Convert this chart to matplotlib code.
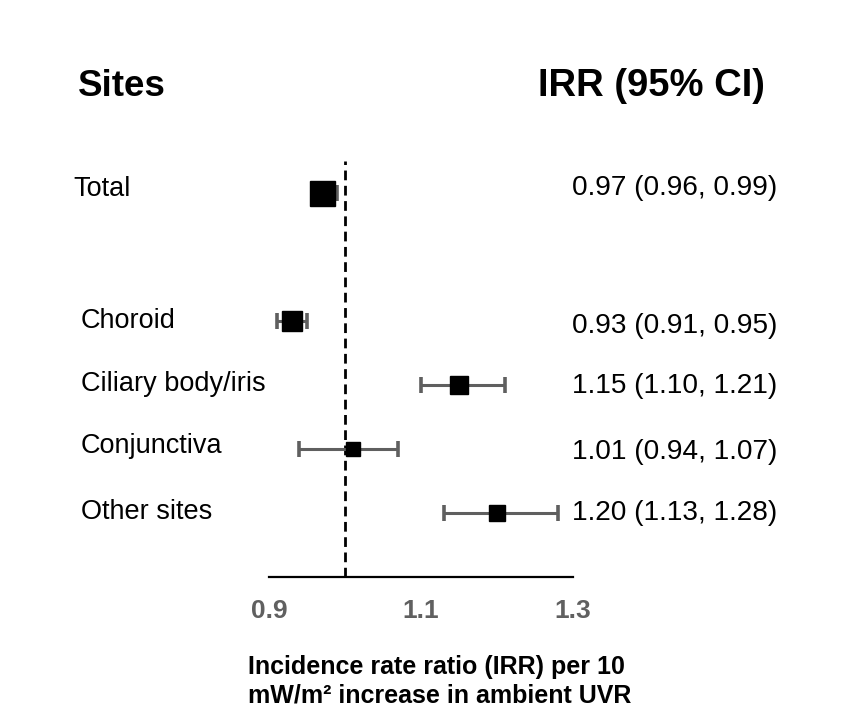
import matplotlib
matplotlib.use("Agg")
from matplotlib import pyplot as plt
from matplotlib import transforms

plt.rcParams['font.family'] = ['Liberation Sans', 'DejaVu Sans']

sites = ["Total", "Choroid", "Ciliary body/iris", "Conjunctiva", "Other sites"]
irr = [0.97, 0.93, 1.15, 1.01, 1.20]
ci_low = [0.96, 0.91, 1.10, 0.94, 1.13]
ci_high = [0.99, 0.95, 1.21, 1.07, 1.28]
rows = [0, 2, 3, 4, 5]
box_sizes = [18, 15, 13, 9.5, 11.5]
ticks = [0.9, 1.1, 1.3]

fig = plt.figure(figsize=(8.58, 7.24), dpi=100)
ax = fig.add_axes([0.3135, 0.203, 0.3543, 0.5746])

for i in range(len(sites)):
    ax.errorbar(irr[i], rows[i], xerr=[[irr[i] - ci_low[i]], [ci_high[i] - irr[i]]],
                fmt='none', ecolor='#5f5f5f', elinewidth=2.2, capsize=5.5, capthick=2.6, zorder=2)
    ax.plot(irr[i], rows[i], marker='s', color='black', markersize=box_sizes[i],
            linestyle='none', zorder=3)

ax.axvline(1.0, color='black', lw=2, dashes=(3.5, 2), zorder=1, clip_on=False)

ax.set_xlim(0.9, 1.3)
ax.set_ylim(6, -0.5)
ax.set_yticks([])
ax.set_xticks(ticks)
ax.set_xticklabels([str(t) for t in ticks], fontsize=19, fontweight='bold', color='#606060')
ax.tick_params(axis='x', length=0, pad=16)
for s in ['top', 'right', 'left']:
    ax.spines[s].set_visible(False)
ax.spines['bottom'].set_linewidth(1.6)

trans = transforms.blended_transform_factory(fig.transFigure, ax.transData)
label_x = [73 / 858] + [81 / 858] * 4
label_dy = [-0.07, 0, -0.02, -0.04, -0.02]
for i in range(len(sites)):
    ax.text(label_x[i], rows[i] + label_dy[i], sites[i], transform=trans,
            ha='left', va='center', fontsize=19.5)
    ax.text(777 / 858, rows[i] + [-0.08, 0.07, 0.02, 0.05, 0.0][i],
            "%.2f (%.2f, %.2f)" % (irr[i], ci_low[i], ci_high[i]),
            transform=trans, ha='right', va='center', fontsize=20.2)

fig.text(78 / 858, 1 - 86 / 724, "Sites", ha='left', va='center', fontsize=26.5, fontweight='bold')
fig.text(765 / 858, 1 - 86 / 724, "IRR (95% CI)", ha='right', va='center', fontsize=27.5, fontweight='bold')

fig.text(248 / 858, 1 - 655 / 724, "Incidence rate ratio (IRR) per 10\nmW/m² increase in ambient UVR",
         ha='left', va='top', fontsize=18, fontweight='bold', linespacing=1.25)

fig.savefig("out.png", dpi=100)
